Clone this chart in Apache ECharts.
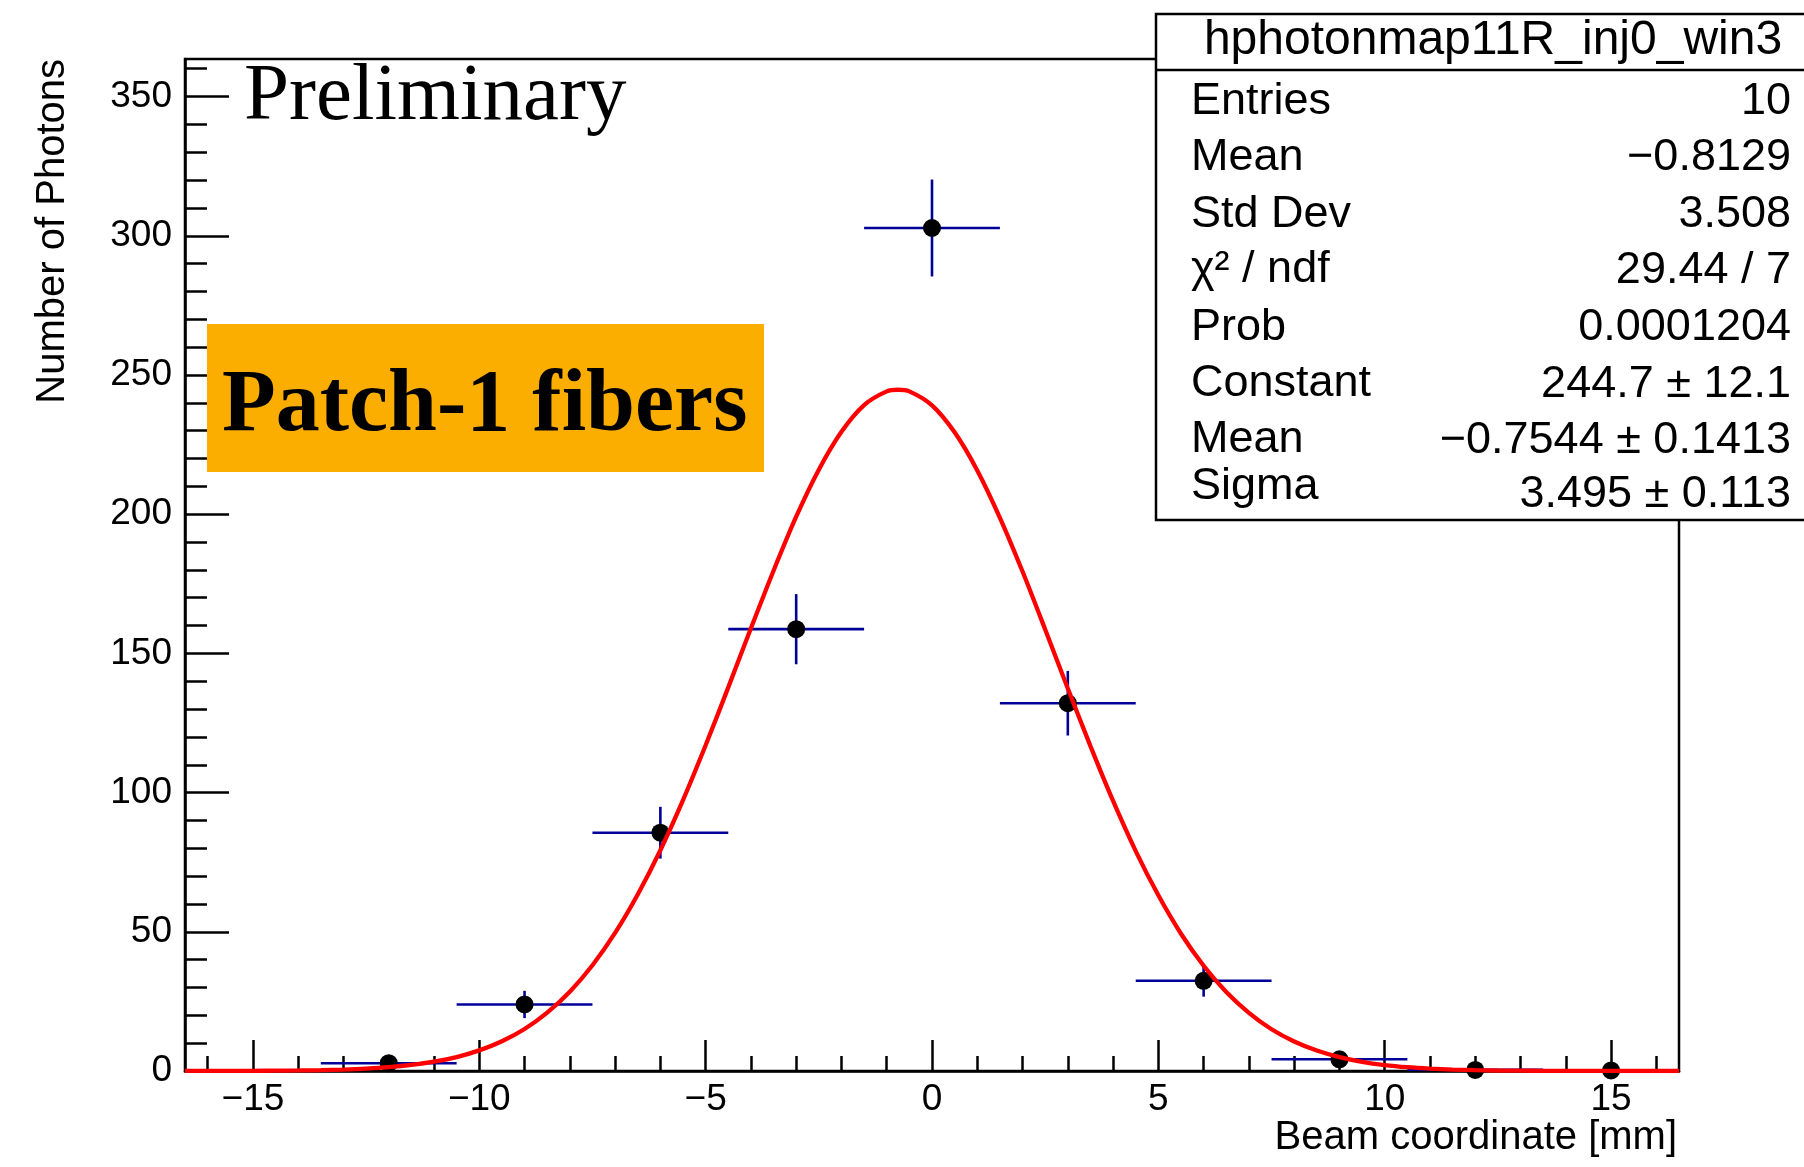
<!DOCTYPE html>
<html><head><meta charset="utf-8">
<script src="https://cdn.jsdelivr.net/npm/echarts@6/dist/echarts.min.js"></script>
<style>html,body{margin:0;padding:0;background:#fff}#chart{width:1804px;height:1167px}</style>
</head><body><div id="chart"></div>
<script>
// ---- data ----
const binCenters   = [-12, -9, -6, -3, 0, 3, 6, 9, 12, 15];
const photonCounts = [2.8, 23.9, 85.6, 158.7, 302.8, 132.1, 32.4, 4.2, 0.4, 0.2];
const countErrors  = [1.7, 4.9, 9.3, 12.6, 17.4, 11.6, 5.7, 2.0, 0.6, 0.4];
const binHalfWidth = 1.5;

const fitX = [-16.5,-16,-15.5,-15,-14.5,-14,-13.5,-13,-12.5,-12,-11.5,-11,-10.5,-10,-9.5,-9,-8.5,-8,-7.5,-7,-6.5,-6,-5.5,-5,-4.5,-4,-3.5,-3,-2.5,-2,-1.5,-1,-0.75,-0.5,0,0.5,1,1.5,2,2.5,3,3.5,4,4.5,5,5.5,6,6.5,7,7.5,8,8.5,9,9.5,10,10.5,11,11.5,12,12.5,13,13.5,14,14.5,15,15.5,16,16.5];
const fitY = [0.01,0.02,0.03,0.06,0.11,0.19,0.32,0.53,0.86,1.38,2.17,3.33,5.01,7.40,10.69,15.1,21.0,28.5,38.0,49.6,63.4,79.3,97.3,117.0,137.8,159.0,179.7,199.1,216.0,229.6,239.2,244.1,244.7,244.1,239.1,229.4,215.7,198.7,179.4,158.6,137.4,116.7,97.0,79.0,63.1,49.3,37.8,28.4,20.9,15.0,10.6,7.35,4.98,3.31,2.15,1.37,0.86,0.52,0.31,0.18,0.11,0.06,0.03,0.02,0.01,0.005,0.003,0.001];

const xMajorTicks = [-15, -10, -5, 0, 5, 10, 15];
const xMinorTicks = [-16,-15,-14,-13,-12,-11,-10,-9,-8,-7,-6,-5,-4,-3,-2,-1,0,1,2,3,4,5,6,7,8,9,10,11,12,13,14,15,16];
const yMajorTicks = [0, 50, 100, 150, 200, 250, 300, 350];
const yMinorTicks = [0,10,20,30,40,50,60,70,80,90,100,110,120,130,140,150,160,170,180,190,200,210,220,230,240,250,260,270,280,290,300,310,320,330,340,350,360];

const xTitle = 'Beam coordinate [mm]';
const yTitle = 'Number of Photons';
const prelimText = 'Preliminary';
const patchText = 'Patch-1 fibers';
const statsTitle = 'hphotonmap11R_inj0_win3';
const statsLabels = ['Entries', 'Mean', 'Std Dev', 'χ² / ndf', 'Prob', 'Constant', 'Mean', 'Sigma'];
const statsValues = ['10', '−0.8129', '3.508', '29.44 / 7', '0.0001204', '244.7 ± 12.1', '−0.7544 ± 0.1413', '3.495 ± 0.113'];

// ---- layout ----
const SANS = '"Liberation Sans", Arial, Helvetica, sans-serif';
const SERIF = '"Liberation Serif", "Times New Roman", serif';
const labelBaselines = [117, 173.5, 230, 285, 343, 399, 455.5, 502];
const valueBaselines = [117, 173.5, 230, 286.5, 343, 400, 456.5, 510];
const STAT_FS = 45;

const chart = echarts.init(document.getElementById('chart'), null, {renderer: 'canvas'});
const minus = v => String(v).replace('-', '\u2212');
const tickLine = {color: '#000', width: 2.5};

const graphics = [
  {type: 'rect', z: 50, shape: {x: 207, y: 324, width: 557, height: 148}, style: {fill: '#FBAD00'}},
  {type: 'text', z: 51, x: 222, y: 436.7 - 0.3375 * 88,
   style: {text: patchText, font: 'bold 88px ' + SERIF, fill: '#000', align: 'left', verticalAlign: 'middle'}},
  {type: 'text', z: 51, x: 244, y: 125 - 0.3375 * 81,
   style: {text: prelimText, font: '81px ' + SERIF, fill: '#000', align: 'left', verticalAlign: 'middle'}},
  {type: 'text', z: 51, x: 52.5, y: 59, rotation: Math.PI / 2,
   style: {text: yTitle, font: '40px ' + SANS, fill: '#000', align: 'right', verticalAlign: 'middle'}},
  {type: 'text', z: 51, x: 1677, y: 1152 - 0.35 * 40,
   style: {text: xTitle, font: '40px ' + SANS, fill: '#000', align: 'right', verticalAlign: 'middle'}},
  {type: 'rect', z: 100, shape: {x: 1156, y: 14, width: 700, height: 506}, style: {fill: '#fff', stroke: '#000', lineWidth: 2.5}},
  {type: 'line', z: 101, shape: {x1: 1156, y1: 70, x2: 1810, y2: 70}, style: {stroke: '#000', lineWidth: 2.5}},
  {type: 'text', z: 101, x: 1493, y: 58 - 0.35 * 48,
   style: {text: statsTitle, font: '48px ' + SANS, fill: '#000', align: 'center', verticalAlign: 'middle'}}
];
statsLabels.forEach((t, i) => {
  graphics.push({type: 'text', z: 101, x: 1191, y: labelBaselines[i] - 0.35 * STAT_FS,
    style: {text: t, font: STAT_FS + 'px ' + SANS, fill: '#000', align: 'left', verticalAlign: 'middle'}});
  graphics.push({type: 'text', z: 101, x: 1791, y: valueBaselines[i] - 0.35 * STAT_FS,
    style: {text: statsValues[i], font: STAT_FS + 'px ' + SANS, fill: '#000', align: 'right', verticalAlign: 'middle'}});
});

const option = {
  animation: false,
  backgroundColor: '#fff',
  grid: {left: 185, top: 59, width: 1494, height: 1012, show: true, borderColor: '#000', borderWidth: 2.5, backgroundColor: 'transparent'},
  xAxis: [
    {type: 'value', min: -16.5, max: 16.5, position: 'bottom',
     axisLine: {show: true, onZero: false, lineStyle: tickLine},
     axisTick: {show: true, inside: true, length: 31, customValues: xMajorTicks, lineStyle: tickLine},
     axisLabel: {show: true, customValues: xMajorTicks, formatter: minus, color: '#000', fontSize: 37, fontFamily: SANS, margin: 10},
     splitLine: {show: false}},
    {type: 'value', min: -16.5, max: 16.5, position: 'bottom', offset: 0,
     axisLine: {show: false, onZero: false},
     axisTick: {show: true, inside: true, length: 15, customValues: xMinorTicks, lineStyle: tickLine},
     axisLabel: {show: false}, splitLine: {show: false}}
  ],
  yAxis: [
    {type: 'value', min: 0, max: 363.5, position: 'left',
     axisLine: {show: true, onZero: false, lineStyle: tickLine},
     axisTick: {show: true, inside: true, length: 44, customValues: yMajorTicks, lineStyle: tickLine},
     axisLabel: {show: true, customValues: yMajorTicks, color: '#000', fontSize: 37, fontFamily: SANS, margin: 13},
     splitLine: {show: false}},
    {type: 'value', min: 0, max: 363.5, position: 'left', offset: 0,
     axisLine: {show: false, onZero: false},
     axisTick: {show: true, inside: true, length: 22, customValues: yMinorTicks, lineStyle: tickLine},
     axisLabel: {show: false}, splitLine: {show: false}}
  ],
  graphic: graphics,
  series: [
    {type: 'custom', xAxisIndex: 0, yAxisIndex: 0, z: 3, clip: true,
     encode: {x: 0, y: 1},
     data: binCenters.map((x, i) => [x, photonCounts[i], countErrors[i]]),
     renderItem: (params, api) => {
       const x = api.value(0), y = api.value(1), e = api.value(2);
       const l = api.coord([x - binHalfWidth, y]), r = api.coord([x + binHalfWidth, y]);
       const t = api.coord([x, y + e]), b = api.coord([x, y - e]);
       const st = {stroke: '#000099', lineWidth: 2.6};
       return {type: 'group', children: [
         {type: 'line', shape: {x1: l[0], y1: l[1], x2: r[0], y2: r[1]}, style: st},
         {type: 'line', shape: {x1: t[0], y1: t[1], x2: b[0], y2: b[1]}, style: st}
       ]};
     }},
    {type: 'scatter', xAxisIndex: 0, yAxisIndex: 0, z: 4, symbol: 'circle', symbolSize: 18,
     itemStyle: {color: '#000', opacity: 1},
     data: binCenters.map((x, i) => [x, photonCounts[i]])},
    {type: 'line', xAxisIndex: 0, yAxisIndex: 0, z: 5, smooth: 0.3, showSymbol: false, symbol: 'none',
     lineStyle: {color: '#ff0000', width: 4.3}, clip: true,
     data: fitX.map((x, i) => [x, fitY[i]])}
  ]
};
chart.setOption(option);
</script></body></html>
